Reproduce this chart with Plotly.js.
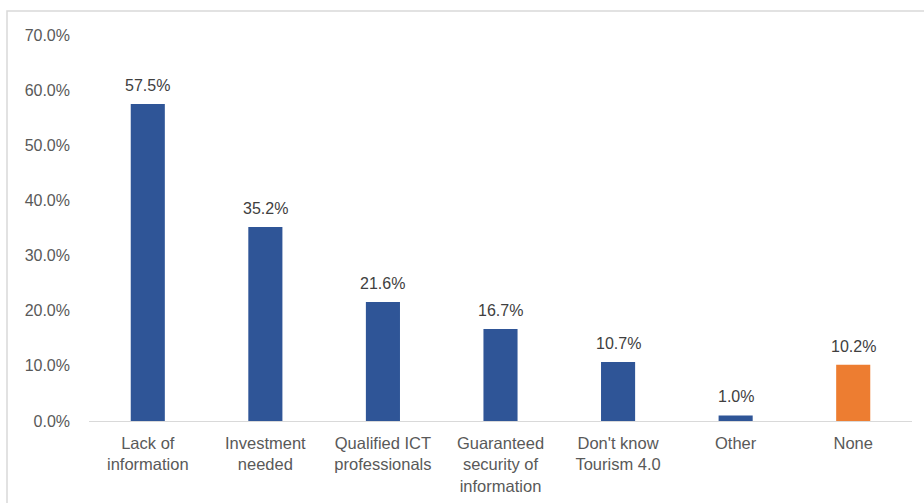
<!DOCTYPE html>
<html>
<head>
<meta charset="utf-8">
<script src="https://cdn.plot.ly/plotly-3.0.1.min.js"></script>
<style>html,body{margin:0;padding:0;background:#fff;}#chart{width:924px;height:503px;}</style>
</head>
<body>
<div id="chart"></div>
<script>
const categories = ["Lack of<br>information", "Investment<br>needed", "Qualified ICT<br>professionals", "Guaranteed<br>security of<br>information", "Don't know<br>Tourism 4.0", "Other", "None"];
const values = [57.5, 35.2, 21.6, 16.7, 10.7, 1.0, 10.2];
const barColors = ["#2F5597", "#2F5597", "#2F5597", "#2F5597", "#2F5597", "#2F5597", "#ED7D31"];
const yTicks = [0, 10, 20, 30, 40, 50, 60, 70];

const font = {family: "Liberation Sans, Arial, sans-serif", size: 16, color: "#595959"};

const labels = categories.map((c, i) => ({
  x: c, y: values[i], xref: "x", yref: "y",
  text: values[i].toFixed(1) + "%", showarrow: false,
  yanchor: "bottom", yshift: 8,
  font: {family: font.family, size: 16, color: "#404040"}
}));

Plotly.newPlot("chart", [{
  type: "bar",
  x: categories,
  y: values,
  marker: {color: barColors},
  hoverinfo: "skip"
}], {
  width: 924, height: 503,
  margin: {l: 89, r: 12, t: 35, b: 82},
  paper_bgcolor: "#fff", plot_bgcolor: "#fff",
  bargap: 0.71,
  showlegend: false,
  font: font,
  xaxis: {
    showline: true, linecolor: "#D9D9D9", linewidth: 1,
    showgrid: false, ticks: "", tickfont: {family: font.family, size: 16.5, color: "#595959"}, ticklabelstandoff: 7,
    tickangle: 0
  },
  yaxis: {
    range: [0, 70], tickvals: yTicks, ticktext: yTicks.map(v => v.toFixed(1) + "%"),
    showgrid: false, zeroline: false, showline: false, ticks: "",
    tickfont: font, ticklabelstandoff: 18
  },
  annotations: labels,
  shapes: [{
    type: "rect", xref: "paper", yref: "paper",
    x0: -82/823, x1: 1.2, y0: -0.5, y1: 410/386,
    line: {color: "#D9D9D9", width: 1.5}, fillcolor: "rgba(0,0,0,0)", layer: "below"
  }]
}, {displayModeBar: false, staticPlot: true});
</script>
</body>
</html>
